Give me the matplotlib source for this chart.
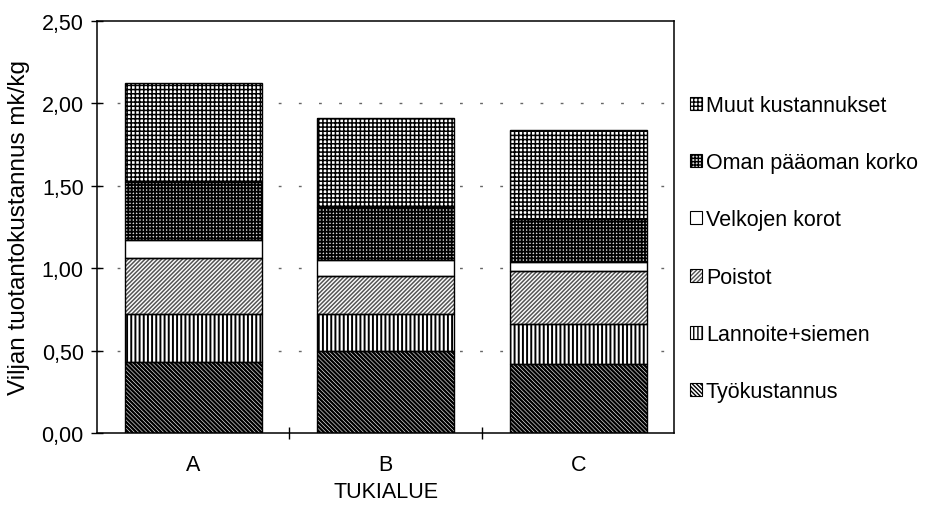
import numpy as np
import matplotlib
matplotlib.use("Agg")
import matplotlib.pyplot as plt
from matplotlib.patches import Patch
from matplotlib.ticker import FuncFormatter, FixedLocator

plt.rcParams['font.family'] = ['Liberation Sans', 'DejaVu Sans']
plt.rcParams['hatch.linewidth'] = 1.0

# Cost components per support area (mk/kg), bottom to top of each stack
regions = ['A', 'B', 'C']
tyokustannus = [0.43, 0.50, 0.42]
lannoite = [0.29, 0.22, 0.24]
poistot = [0.34, 0.23, 0.32]
velkojen_korot = [0.11, 0.10, 0.06]
oma_korko = [0.35, 0.32, 0.26]
muut = [0.60, 0.54, 0.54]

labels = ['Työkustannus', 'Lannoite+siemen', 'Poistot',
          'Velkojen korot', 'Oman pääoman korko', 'Muut kustannukset']
series = [tyokustannus, lannoite, poistot, velkojen_korot, oma_korko, muut]

# face colour, hatch, hatch colour, hatch linewidth
styles = [
    ('white', '\\' * 8, 'black', 1.7),
    ('white', '||||', 'black', 1.4),
    ('white', '/' * 8, '#555555', 1.1),
    ('white', '', 'black', 1.0),
    ('#d8d8d8', '+++++', 'black', 1.3),
    ('white', '++++', 'black', 1.1),
]

fig = plt.figure(figsize=(9.36, 5.06), dpi=100)
ax = fig.add_axes([0.1036, 0.142, 0.617, 0.815])

x = np.arange(len(regions))
width = 0.71
bottom = np.zeros(len(regions))
handles = []
for vals, (face, hatch, hcol, hlw) in zip(series, styles):
    vals = np.array(vals)
    bars = ax.bar(x, vals, width, bottom=bottom, color=face, edgecolor=hcol,
                  hatch=hatch, linewidth=0, zorder=2)
    for b in bars:
        if hasattr(b, 'set_hatch_linewidth'):
            b.set_hatch_linewidth(hlw)
    ax.bar(x, vals, width, bottom=bottom, fill=False, edgecolor='black',
           linewidth=1.0, zorder=3)
    bottom += vals
    fill = Patch(facecolor=face, edgecolor=hcol, hatch=hatch, linewidth=0)
    if hasattr(fill, 'set_hatch_linewidth'):
        fill.set_hatch_linewidth(hlw)
    outline = Patch(fill=False, edgecolor='black', linewidth=0.8)
    handles.append((fill, outline))

ax.set_xlim(-0.5, 2.5)
ax.set_ylim(0, 2.5)
ax.set_yticks(np.arange(0, 2.51, 0.5))
ax.yaxis.set_major_formatter(FuncFormatter(lambda v, p: f'{v:.2f}'.replace('.', ',')))
ax.set_xticks(x)
ax.set_xticklabels(regions)
ax.xaxis.set_minor_locator(FixedLocator([0.5, 1.5]))
ax.tick_params(axis='x', which='major', length=0, pad=15, labelsize=15.5)
ax.tick_params(axis='x', which='minor', direction='inout', length=9, width=1)
ax.tick_params(axis='y', direction='inout', length=9, width=1, pad=5, labelsize=15.5)

# sparse dashed gridlines behind the bars
for yv in [0.5, 1.0, 1.5, 2.0]:
    ax.axhline(yv, color='#666666', linewidth=1.0, linestyle=(0, (2, 12.5)), zorder=1)

for s in ax.spines.values():
    s.set_linewidth(1.1)

ax.set_ylabel('Viljan tuotantokustannus mk/kg', fontsize=17.5, labelpad=8)
ax.set_xlabel('TUKIALUE', fontsize=15.5, labelpad=4)

leg = fig.legend(handles[::-1], labels[::-1], loc='upper left',
                 bbox_to_anchor=(0.737, 0.81), frameon=False, fontsize=15.5,
                 handlelength=0.55, handleheight=0.55, handletextpad=0.2,
                 labelspacing=1.68, borderpad=0, borderaxespad=0)

fig.savefig('out.png', dpi=100)
